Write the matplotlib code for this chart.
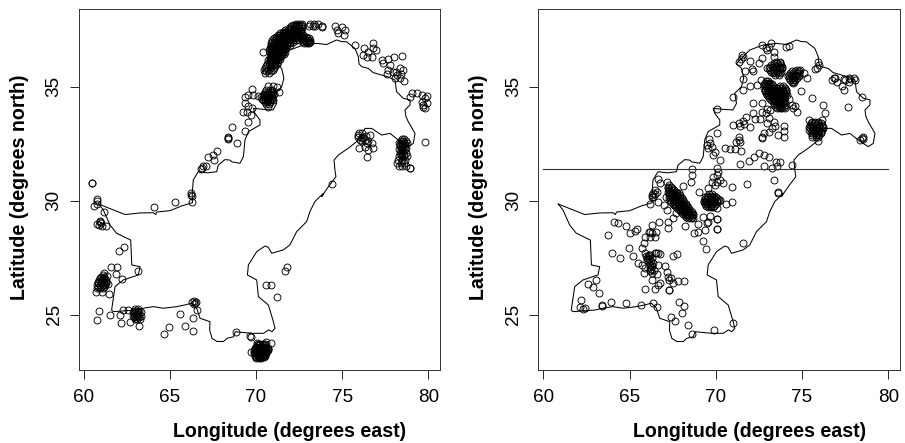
import matplotlib
matplotlib.use("Agg")
import matplotlib.pyplot as plt

plt.rcParams['font.family'] = ['Liberation Sans', 'DejaVu Sans']

# country outline, (lon, lat)
border = [(60.87,29.85),(62.4,29.39),(63.27,29.46),(64.04,29.47),(64.18,29.39),(64.24,29.5),(65.01,29.56),
    (65.69,29.77),(66.31,29.91),(66.3,30.3),(66.36,30.91),(66.65,31.27),(67.2,31.22),(67.72,31.27),(67.81,31.56),
    (68.2,31.8),(68.49,31.78),(68.6,31.7),(69.07,31.64),(69.27,31.93),(69.36,32.66),(69.56,33.03),(70.23,33.32),
    (70.23,33.54),(69.94,33.83),(69.85,34.05),(70.5,34.0),(71.0,33.98),(71.2,34.27),(71.1,34.71),(71.49,35.0),
    (71.62,35.37),(71.49,35.8),(71.2,36.02),(71.97,36.61),(72.75,36.83),(73.52,36.9),(74.1,36.85),(74.68,37.05),
    (74.95,36.98),(75.26,36.97),(75.45,36.85),(75.74,36.68),(75.94,36.32),(75.98,36.0),(76.13,35.88),(76.52,35.8),
    (76.8,35.62),(77.29,35.51),(77.7,35.42),(78.07,35.29),(78.16,34.78),(78.55,34.49),(78.94,34.42),(78.94,34.2),
    (78.65,33.98),(78.7,33.7),(78.84,33.46),(79.23,32.95),(79.13,32.51),(78.84,32.37),(78.55,32.51),(78.26,32.66),
    (77.78,32.95),(77.29,32.88),(76.71,33.17),(76.33,33.17),(75.84,32.59),(75.36,32.3),(74.78,32.0),(74.53,31.78),
    (74.58,31.35),(74.64,31.05),(74.2,30.61),(73.81,30.18),(73.91,30.32),(73.42,29.96),(73.13,29.52),(72.94,29.08),
    (72.36,28.64),(71.97,28.06),(71.59,27.84),(70.91,27.69),(70.72,27.95),(70.52,28.01),(70.04,27.76),(69.56,27.18),
    (69.5,26.74),(70.04,26.52),(70.14,25.79),(70.72,25.42),(71.01,24.69),(71.1,24.4),(70.93,24.25),(70.73,24.33),
    (70.44,24.18),(69.75,24.18),(68.8,24.25),(68.7,24.03),(68.32,23.96),(68.12,23.82),(67.74,23.82),(67.45,23.96),
    (67.31,24.33),(67.33,24.69),(66.75,24.84),(66.56,25.28),(66.27,25.5),(65.85,25.42),(65.4,25.35),(64.62,25.28),
    (64.04,25.35),(63.46,25.28),(62.98,25.2),(61.72,25.13),(61.62,25.2),(61.82,26.23),(62.3,26.52),(63.17,26.74),
    (63.27,27.1),(62.79,27.18),(62.73,28.27),(61.91,28.57),(61.53,28.93),(61.14,29.59),(60.87,29.85)]

# left panel: scattered sites
left_sites = [(74.58,37.66),(74.68,37.49),(74.74,37.37),(74.97,37.6),(75.18,37.49),(75.1,37.25),(75.74,36.81),
    (76.27,36.71),(76.77,36.9),(76.81,36.68),(76.96,36.61),(76.52,36.54),(76.23,36.39),(76.75,36.32),(76.42,36.29),
    (77.33,36.17),(77.68,36.2),(78.45,36.35),(78.03,36.29),(77.39,36.02),(77.78,35.95),(77.68,35.73),(77.97,35.66),
    (77.58,35.55),(78.36,35.8),(78.55,35.73),(78.16,35.51),(78.36,35.37),(78.6,35.26),(78.1,35.66),(78.05,35.4),(78.42,35.55),
    (78.94,34.56),(79.04,34.71),(79.32,34.74),(79.61,34.63),(79.9,34.59),(79.8,34.49),(79.61,34.34),(79.71,34.2),
    (79.8,34.05),(79.67,34.12),(79.9,34.27),(79.79,32.59),(74.41,30.72),
    (75.94,32.88),(76.13,32.95),(76.03,32.66),(75.99,32.3),(76.42,31.93),(76.62,32.88),(76.71,32.51),(76.77,32.3),
    (76.52,32.22),(76.42,32.51),(76.13,32.73),(76.32,32.66),(76.5,32.6),(76.2,32.8),(75.94,32.78),(76.13,32.6),
    (76.33,32.37),(76.4,32.85),(76.0,32.95),
    (69.75,34.88),(69.36,34.56),(69.55,34.63),(69.85,34.63),(70.13,34.59),(71.0,35.03),(71.2,34.97),(70.72,35.03),
    (71.35,34.78),(71.0,34.41),(70.72,34.09),(69.36,34.27),(69.55,34.15),(69.75,34.05),(69.26,33.9),(69.46,33.9),
    (69.71,33.76),(69.52,33.44),(69.36,33.07),(68.63,33.25),(68.36,32.81),(68.36,32.69),(68.36,32.74),(68.92,32.54),
    (67.76,32.18),(67.52,32.0),(67.56,31.78),(67.23,31.9),(67.08,31.54),(66.94,31.5),(66.79,31.39),(66.85,31.44),
    (60.5,30.78),(60.51,30.77),(66.23,30.35),(66.23,30.25),(66.27,30.2),(60.75,29.97),(60.79,30.06),(60.62,29.77),
    (60.75,29.84),(64.1,29.72),(65.28,29.93),(66.29,29.93),(61.16,29.5),(60.95,29.12),(60.79,28.98),(60.9,28.95),
    (61.04,28.9),(60.92,29.05),(61.0,29.0),(61.3,28.9),(62.36,27.98),(62.07,27.79),(61.57,27.08),(61.91,27.08),
    (63.17,26.9),(61.86,26.77),(61.16,26.84),(61.38,26.7),(62.22,26.58),(60.74,26.0),(61.04,26.01),(61.45,25.89),
    (61.43,26.33),(60.91,25.18),(60.79,24.77),(61.53,24.97),(62.13,24.99),(62.26,25.19),(62.59,25.2),(62.15,24.62),
    (62.71,24.66),(63.19,24.49),(65.61,25.04),(66.36,24.84),(66.6,25.2),(64.93,24.44),(65.9,24.52),(64.68,24.17),
    (66.36,24.28),(66.3,25.55),(66.4,25.6),(66.45,25.5),(66.5,25.55),(66.4,25.45),(68.82,24.25),(69.67,24.06),
    (69.73,24.0),(70.6,26.3),(70.85,26.32),(71.24,25.77),(71.8,27.1),(71.68,26.93),(70.89,23.76),(70.56,23.82),
    (70.04,23.77),(69.69,23.38),(70.39,36.53),(73.85,37.65),(73.86,37.64)]

# left panel: dense clusters, latitude -> longitudes
left_north = {35.6:[70.5,70.75], 35.68:[70.6,70.85], 35.75:[70.45,70.7,71.0], 35.82:[70.55,70.8,71.05],
    35.9:[70.6,70.85,71.1], 35.95:[70.75,71.0], 36.0:[70.65,70.9,71.1,71.2], 36.08:[70.75,70.95,71.1,71.25],
    36.15:[70.7,70.85,71.0,71.15,71.3], 36.22:[70.8,70.95,71.1,71.25,71.38], 36.3:[70.8,70.95,71.1,71.25,71.4],
    36.38:[70.9,71.05,71.2,71.35,71.5], 36.45:[70.85,71.0,71.15,71.3,71.45,71.6],
    36.52:[70.8,70.95,71.1,71.25,71.4,71.55,71.7], 36.6:[70.75,70.9,71.05,71.2,71.35,71.5,71.65],
    36.68:[70.8,70.95,71.1,71.25,71.4,71.55,71.7], 36.75:[70.85,71.0,71.15,71.3,71.45,71.6,71.75],
    36.82:[70.9,71.05,71.2,71.35,71.5,71.65,71.8,71.95], 36.9:[70.9,71.05,71.2,71.35,71.5,71.65,71.8,71.95,72.8,72.95,73.1],
    36.97:[70.95,71.1,71.25,71.4,71.55,71.7,71.85,72.0,72.15,72.75,72.9,73.05,73.15],
    37.05:[70.95,71.1,71.25,71.4,71.55,71.7,71.85,72.0,72.15,72.3,72.5,72.7,72.85,73.0,73.15],
    37.12:[71.05,71.2,71.35,71.5,71.65,71.8,71.95,72.1,72.25,72.4,72.65,72.8,72.95,73.1],
    37.2:[71.15,71.3,71.45,71.6,71.75,71.9,72.05,72.2,72.4,72.6,72.75,72.9],
    37.28:[71.25,71.4,71.55,71.7,71.85,72.0,72.15,72.3,72.45,72.6,72.75],
    37.35:[71.4,71.55,71.7,71.85,72.0,72.15,72.3,72.45,72.6], 37.42:[71.55,71.7,71.85,72.0,72.15,72.3,72.45,72.6],
    37.5:[71.7,71.85,72.0,72.15,72.3,72.45,72.6], 37.58:[71.9,72.05,72.2,72.35,72.5,72.65],
    37.65:[72.05,72.2,72.35,72.5,72.65,73.1,73.3,73.45], 37.7:[72.15,72.3,72.45,72.6], 37.75:[72.3,72.5,72.65,73.15,73.35,73.6]}
left_ladakh = {32.7:[78.45,78.6], 32.62:[78.4,78.55,78.7], 32.55:[78.3,78.45,78.6,78.75], 32.47:[78.35,78.5,78.65],
    32.4:[78.35,78.5,78.65], 32.32:[78.4,78.55,78.7], 32.25:[78.3,78.5,78.65], 32.18:[78.4,78.55],
    32.1:[78.35,78.5,78.7], 32.02:[78.4,78.6], 31.95:[78.3,78.45,78.6,78.75], 31.8:[78.25,78.5,78.65], 31.65:[78.2,78.4,78.6],
    31.5:[78.3,78.5,78.7], 31.42:[78.93,78.94]}
left_hook = {34.85:[70.6,70.8,70.95], 34.78:[70.5,70.7,70.85,71.0], 34.7:[70.45,70.6,70.75,70.9,71.05],
    34.62:[70.4,70.55,70.7,70.85,71.0], 34.55:[70.3,70.45,70.6,70.75,70.9], 34.47:[70.35,70.5,70.65,70.8,70.95],
    34.4:[70.4,70.55,70.7,70.85], 34.32:[70.5,70.65,70.8], 34.25:[70.6,70.75]}
left_makran = {26.75:[61.1], 26.67:[61.0,61.15], 26.6:[60.95,61.1,61.2], 26.52:[60.9,61.05,61.2,61.3],
    26.45:[60.85,61.0,61.15,61.3], 26.37:[60.85,61.0,61.15,61.28], 26.3:[60.8,60.95,61.1,61.25],
    26.22:[60.85,61.0,61.15], 26.15:[60.8,60.95,61.1]}
left_coast = {25.25:[63.0,63.15], 25.18:[62.92,63.08,63.22], 25.1:[62.85,63.0,63.15,63.3], 25.03:[62.92,63.08,63.22],
    24.95:[62.85,63.0,63.15,63.3], 24.88:[62.9,63.05,63.2], 24.8:[62.95,63.1,63.25]}
left_delta = {23.7:[70.1,70.25,70.4,70.55], 23.65:[70.05,70.2,70.35,70.5], 23.6:[70.0,70.15,70.3,70.45,70.6],
    23.55:[69.97,70.12,70.27,70.42,70.57,70.68], 23.5:[69.95,70.1,70.25,70.4,70.55,70.7],
    23.45:[69.92,70.07,70.22,70.37,70.52,70.67], 23.4:[69.9,70.05,70.2,70.35,70.5,70.65],
    23.35:[69.97,70.12,70.27,70.42,70.57], 23.3:[69.9,70.05,70.2,70.35,70.5,70.6], 23.25:[69.97,70.12,70.27,70.42,70.55],
    23.2:[69.95,70.1,70.25,70.4,70.55], 23.15:[70.02,70.17,70.32,70.45], 23.1:[70.0,70.15,70.3]}

# right panel: scattered sites
right_sites = [(72.67,36.83),(73.06,36.75),(73.19,36.9),(72.9,36.68),(73.35,36.54),(74.06,36.75),(74.27,36.8),
    (72.67,36.24),(72.53,36.02),(73.35,36.3),(72.95,36.6),(71.5,36.39),(71.32,36.1),(71.57,36.32),(71.45,36.2),
    (71.99,36.14),(71.7,35.7),(72.13,35.7),(72.09,35.76),(71.6,35.32),(71.99,35.03),(71.6,34.85),(70.99,34.53),
    (70.06,34.02),(72.61,35.29),(72.38,35.07),(72.96,35.83),(75.28,35.39),(75.09,35.61),(74.95,34.82),(75.57,34.52),
    (76.19,34.2),(77.66,34.12),(78.47,34.53),(75.86,35.8),(75.92,36.1),(75.96,35.95),(75.76,35.76),
    (76.73,35.29),(76.93,35.37),(77.02,35.22),(77.31,35.03),(77.41,34.85),(77.5,35.3),(77.7,35.4),(77.99,35.4),
    (78.08,35.29),(77.7,35.22),(77.41,35.32),(77.8,35.33),(76.83,35.4),(78.47,32.73),(78.52,32.78),(78.38,32.66),(78.55,32.71),
    (75.43,33.54),(76.15,33.54),(76.34,33.83),(75.9,32.63),(74.12,34.63),(74.27,34.48),(74.41,34.2),(74.6,34.15),
    (74.7,33.9),(74.5,34.05),(72.67,34.27),(72.96,34.0),(73.15,33.98),(72.67,33.9),(72.92,33.86),(72.15,33.86),
    (72.15,34.27),(71.76,33.68),(71.57,33.5),(71.32,33.39),(71.41,33.27),(70.99,33.3),(71.99,33.22),(71.64,33.36),
    (72.28,33.58),(72.57,33.57),(73.11,33.61),(73.35,33.46),(72.96,33.39),(73.44,33.27),(73.25,33.17),(73.93,33.27),
    (73.93,33.07),(73.58,32.88),(73.93,32.78),(72.77,32.95),(72.67,32.81),(73.11,33.03),(72.67,32.75),(71.32,32.66),
    (71.18,32.59),(71.41,32.59),(71.35,32.81),(70.54,32.32),(70.83,32.27),(71.12,32.27),(71.45,32.18),(72.53,32.1),
    (72.77,32.0),(73.06,31.9),(72.19,31.9),(71.95,31.74),(71.41,31.6),(73.5,31.71),(73.73,31.71),(72.8,31.5),
    (73.25,31.42),(73.54,31.52),(74.41,31.57),(73.39,30.9),(71.8,30.73),(73.58,30.37),(70.93,30.58),(70.06,32.95),
    (69.63,32.69),(69.48,32.44),(69.67,32.54),(69.77,32.37),(69.57,32.3),(69.96,32.15),(69.86,32.0),(70.25,31.78),
    (70.06,31.42),(68.6,31.39),(68.6,31.13),(68.55,30.8),(68.12,30.64),(69.0,30.4),(67.16,30.84),
    (70.15,31.27),(69.86,31.05),(70.06,31.13),(70.25,30.91),(69.77,30.83),(70.06,30.83),(70.44,30.79),(69.57,30.54),
    (69.96,30.69),(66.38,30.32),(66.29,30.25),(66.48,30.47),(66.58,30.4),(66.38,30.18),(66.67,30.95),(66.77,30.76),
    (66.21,29.85),(66.63,29.96),(67.0,29.81),(67.16,29.59),(66.45,30.3),(66.29,30.18),(67.12,30.15),(67.7,29.44),
    (67.54,29.23),(67.25,29.05),(67.25,28.79),(66.73,29.08),(66.33,28.93),(68.24,28.89),(68.96,28.96),(69.28,29.3),
    (69.67,29.33),(70.06,29.18),(70.05,29.19),(70.06,28.74),(70.05,28.75),(69.57,29.08),(69.48,29.0),(69.38,28.71),
    (68.99,28.61),(68.74,28.57),(69.23,28.25),(69.42,27.89),(70.93,29.93),(70.6,29.85),(70.25,30.03),(70.06,29.66),
    (64.12,29.08),(64.35,29.01),(64.8,28.89),(65.05,28.57),(65.32,28.68),(65.41,28.74),(63.73,28.48),(64.0,27.72),
    (64.47,27.49),(64.99,27.91),(65.2,27.59),(66.19,28.64),(66.1,28.64),(66.29,28.57),(66.54,28.64),(66.48,28.39),
    (66.19,28.39),(65.9,28.42),(65.86,28.16),(65.71,27.91),(71.6,28.16),
    (65.9,27.69),(66.1,27.62),(66.29,27.47),(66.0,27.4),(65.51,27.28),(65.71,27.18),(65.9,27.03),(66.19,27.18),
    (66.48,27.69),(66.67,27.69),(66.77,27.66),(66.54,27.72),(66.38,27.25),(66.67,27.18),(66.19,26.96),(66.29,26.81),
    (65.86,26.84),(66.62,26.78),(67.06,27.13),(67.16,26.89),(67.54,27.57),(67.74,27.66),(67.25,26.64),(67.39,26.6),
    (67.31,26.52),(67.54,26.37),(67.83,26.48),(68.16,26.48),(66.67,26.3),(66.48,26.11),(65.9,26.14),(67.31,26.08),
    (67.3,26.09),(66.77,26.37),(66.29,26.52),(66.1,27.3),(66.2,27.1),(66.05,27.55),(66.4,26.95),
    (66.0,27.5),(66.15,27.45),(65.95,27.55),(66.2,27.6),(66.1,27.45),(66.25,27.35),(66.3,27.15),(66.2,26.9),(66.25,27.0),
    (63.06,26.52),(62.61,26.35),(62.9,26.2),(63.23,25.94),(62.17,25.65),(62.13,25.32),(62.42,25.28),(62.32,25.23),
    (63.42,25.42),(63.39,25.38),(63.91,25.57),(64.8,25.53),(65.65,25.42),(66.38,25.5),(66.62,25.32),(67.89,25.54),
    (68.16,25.39),(68.07,25.09),(67.39,24.88),(67.64,24.72),(68.41,24.56),(68.63,24.17),(69.92,24.31),(70.99,24.65),
    (73.58,30.35)]

# right panel: dense clusters, latitude -> longitudes
right_chitral = {36.1:[73.5,73.7], 36.02:[73.35,73.55,73.75], 35.95:[73.2,73.4,73.6,73.8], 35.88:[73.15,73.3,73.5,73.7,73.85],
    35.8:[73.1,73.3,73.5,73.7,73.85], 35.72:[73.15,73.35,73.55,73.75], 35.65:[73.2,73.4,73.6,73.8], 35.58:[73.3,73.5,73.7],
    35.5:[73.45,73.65]}
right_gilgit = {35.75:[74.7,74.9], 35.67:[74.4,74.6,74.8], 35.6:[74.3,74.5,74.7,74.85], 35.52:[74.25,74.4,74.6,74.8],
    35.45:[74.2,74.35,74.5,74.65,74.85], 35.37:[74.25,74.4,74.55,74.7], 35.3:[74.3,74.45,74.6], 35.22:[74.4,74.55], 35.15:[74.5]}
right_kashmir = {33.47:[75.55,75.75,75.95], 33.4:[75.5,75.7,75.9,76.1], 33.32:[75.45,75.6,75.8,76.0,76.15],
    33.25:[75.4,75.6,75.8,76.0,76.2], 33.17:[75.45,75.65,75.85,76.05,76.2], 33.1:[75.4,75.6,75.8,76.0,76.15],
    33.02:[75.5,75.7,75.9,76.08], 32.95:[75.55,75.75,75.95,76.1], 32.87:[75.6,75.8,76.0], 32.8:[75.6,75.8,75.95]}
right_swat = {35.25:[72.9,73.0], 35.18:[72.85,73.0,73.15], 35.1:[72.8,72.95,73.1,73.25], 35.02:[72.85,73.0,73.15,73.3,73.75,73.9],
    34.95:[72.8,72.95,73.1,73.25,73.4,73.55,73.7,73.85,74.0], 34.87:[72.85,73.0,73.15,73.3,73.45,73.6,73.75,73.9,74.05],
    34.8:[72.85,73.0,73.15,73.3,73.45,73.6,73.75,73.9,74.05], 34.72:[72.9,73.05,73.2,73.35,73.5,73.65,73.8,73.95,74.05],
    34.65:[72.95,73.1,73.25,73.4,73.55,73.7,73.85,74.0], 34.57:[73.05,73.2,73.35,73.5,73.65,73.8,73.95],
    34.5:[73.1,73.25,73.4,73.55,73.7,73.85,73.98], 34.42:[73.2,73.35,73.5,73.65,73.8,73.95],
    34.35:[73.3,73.45,73.6,73.75,73.9,74.02], 34.27:[73.35,73.5,73.65,73.8,73.95], 34.2:[73.4,73.55,73.7,73.85,74.0],
    34.12:[73.5,73.65,73.8,73.95], 34.05:[73.55,73.7,73.85,74.0]}
right_quetta = {30.7:[67.3], 30.62:[67.25,67.4], 30.55:[67.25,67.45], 30.47:[67.3,67.45,67.6], 30.4:[67.25,67.4,67.55,67.7],
    30.32:[67.3,67.45,67.6,67.75,67.85], 30.25:[67.3,67.45,67.6,67.75,67.9], 30.17:[67.35,67.5,67.65,67.8,67.95],
    30.1:[67.3,67.45,67.6,67.75,67.9,68.05], 30.02:[67.35,67.5,67.65,67.8,67.95,68.1], 29.95:[67.4,67.55,67.7,67.85,68.0,68.15],
    29.87:[67.5,67.65,67.8,67.95,68.1,68.25], 29.8:[67.55,67.7,67.85,68.0,68.15,68.3], 29.72:[67.7,67.85,68.0,68.15,68.3,68.4],
    29.65:[67.8,67.95,68.1,68.25,68.4], 29.57:[67.9,68.05,68.2,68.35,68.5], 29.5:[68.0,68.15,68.3,68.45,68.6],
    29.42:[68.1,68.25,68.4,68.55,68.65], 29.35:[68.2,68.35,68.5,68.65], 29.3:[68.3,68.45,68.6], 29.25:[68.4,68.55,68.7]}
right_multan = {30.3:[69.6,69.8], 30.22:[69.5,69.7,69.9], 30.15:[69.4,69.55,69.7,69.85,70.0], 30.07:[69.35,69.5,69.65,69.8,69.95,70.1],
    30.0:[69.3,69.45,69.6,69.75,69.9,70.05,70.2], 29.92:[69.3,69.45,69.6,69.75,69.9,70.05], 29.85:[69.35,69.5,69.65,69.8,70.0],
    29.77:[69.45,69.6,69.75,69.9], 29.7:[69.55,69.7,69.85]}

hline_lat = 31.4
hline_lons = [60, 80]
x_ticks = [60, 65, 70, 75, 80]
y_ticks = [25, 30, 35]


def unpack(sites, clusters):
    lons = [p[0] for p in sites]
    lats = [p[1] for p in sites]
    for rows in clusters:
        for lat, row in rows.items():
            lons += row
            lats += [lat] * len(row)
    return lons, lats


def draw_panel(ax, lons, lats):
    ax.plot([p[0] for p in border], [p[1] for p in border], color='black', lw=0.75)
    ax.plot(lons, lats, 'o', ms=5.0, mfc='none', mec='black', mew=0.65, clip_on=False)
    ax.set_xlim(59.71, 80.68)
    ax.set_ylim(22.57, 38.43)
    ax.set_xticks(x_ticks)
    ax.set_yticks(y_ticks)
    ax.set_yticklabels([str(t) for t in y_ticks], rotation=90, va='center')
    ax.tick_params(length=6.5, width=0.7, labelsize=13.6, color='#222222')
    ax.tick_params(axis='x', pad=7)
    ax.tick_params(axis='y', pad=5)
    for side in ax.spines.values():
        side.set_linewidth(0.7)
        side.set_color('#333333')
    ax.set_xlabel('Longitude (degrees east)', fontsize=14.1, fontweight='bold', va='center')
    ax.set_ylabel('Latitude (degrees north)', fontsize=14.1, fontweight='bold', va='center')
    # the axis titles sit off centre in the reference
    ax.xaxis.set_label_coords(0.5848, -0.169)
    ax.yaxis.set_label_coords(-0.165, 0.505)


fig = plt.figure(figsize=(9.05, 4.43), dpi=100)
w, h = 905.0, 443.0
ax1 = fig.add_axes([78.7 / w, 1 - 370 / h, 361.3 / w, 361.5 / h])
ax2 = fig.add_axes([538.3 / w, 1 - 370 / h, 361.7 / w, 361.5 / h])

lons, lats = unpack(left_sites, [left_north, left_ladakh, left_hook, left_makran, left_coast, left_delta])
draw_panel(ax1, lons, lats)

lons, lats = unpack(right_sites, [right_chitral, right_gilgit, right_kashmir, right_swat, right_quetta, right_multan])
draw_panel(ax2, lons, lats)
ax2.plot(hline_lons, [hline_lat, hline_lat], color='#333333', lw=0.8)

fig.savefig('out.png', dpi=100)
